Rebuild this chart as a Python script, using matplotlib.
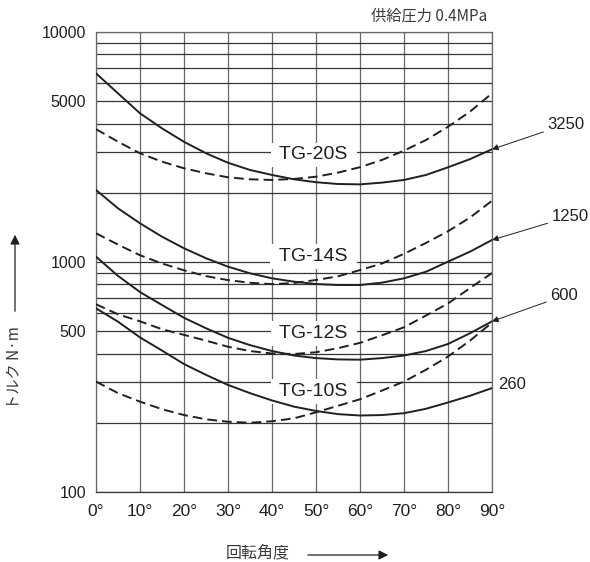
import matplotlib
matplotlib.use("Agg")
import matplotlib.pyplot as plt

# rotation angle (deg) and torque (N·m)
angle = [0, 5, 10, 15, 20, 25, 30, 35, 40, 45, 50, 55, 60, 65, 70, 75, 80, 85, 90]

tg20s_solid = [6610, 5410, 4430, 3811, 3330, 2970, 2700, 2512, 2390, 2288,
               2222, 2183, 2175, 2213, 2273, 2390, 2580, 2800, 3090]
tg20s_dash = [3780, 3334, 2968, 2730, 2555, 2430, 2334, 2288, 2273, 2296,
              2348, 2446, 2583, 2777, 3049, 3390, 3873, 4505, 5410]
tg14s_solid = [2056, 1711, 1473, 1288, 1147, 1038, 954, 893, 849, 821,
               802, 794, 794, 813, 849, 907, 1003, 1109, 1246]
tg14s_dash = [1333, 1190, 1070, 985, 920, 868, 834, 812, 801, 810,
              835, 866, 922, 985, 1085, 1210, 1360, 1560, 1845]
tg12s_solid = [1055, 870, 740, 650, 572, 515, 468, 435, 410, 392,
               382, 377, 376, 382, 392, 410, 440, 490, 552]
tg12s_dash = [655, 592, 552, 510, 482, 455, 428, 410, 400, 398,
              405, 422, 445, 480, 520, 585, 660, 770, 895]
tg10s_solid = [629, 550, 470, 412, 360, 323, 292, 269, 250, 235,
               225, 218, 215, 216, 220, 230, 245, 262, 283]
tg10s_dash = [302, 269, 247, 229, 216, 207, 202, 200, 203, 209,
              222, 237, 253, 276, 302, 340, 388, 455, 545]

models = ["TG-20S", "TG-14S", "TG-12S", "TG-10S"]
label_y = [2920, 1059, 490, 274]
end_labels = ["3250", "1250", "600"]
end_values = [3090, 1246, 552]

major_y = [100, 500, 1000, 5000, 10000]
minor_y = [200, 300, 400, 600, 700, 800, 900,
           2000, 3000, 4000, 6000, 7000, 8000, 9000]
x_ticks = [0, 10, 20, 30, 40, 50, 60, 70, 80, 90]

latin = "Liberation Sans"
cjk = ["Noto Sans CJK JP", "Liberation Sans", "DejaVu Sans"]

ink = "#231f20"
hgrid = "#3b3435"
vgrid = "#6e6667"

fig = plt.figure(figsize=(5.9, 5.62), dpi=100)
ax = fig.add_axes([0.1627, 0.1246, 0.6712, 0.8185])

ax.set_yscale("log")
ax.set_xlim(0, 90)
ax.set_ylim(100, 10000)

ax.set_yticks(major_y)
ax.set_yticklabels([str(v) for v in major_y], fontsize=11.5, family=latin, color=ink)
ax.set_yticks(minor_y, minor=True)
ax.yaxis.set_minor_formatter(matplotlib.ticker.NullFormatter())
ax.set_xticks(x_ticks)
ax.set_xticklabels([f"{v}°" for v in x_ticks], fontsize=12.5, family=latin, color=ink)
ax.tick_params(which="both", length=0)
ax.tick_params(axis="y", pad=7)
ax.tick_params(axis="x", pad=9)

ax.grid(True, axis="y", which="both", color=hgrid, lw=0.9, zorder=1)
ax.grid(True, axis="x", which="major", color=vgrid, lw=0.9, zorder=1)
ax.set_axisbelow(True)
for side in ["top", "right", "left"]:
    ax.spines[side].set_color(vgrid)
    ax.spines[side].set_linewidth(0.9)
ax.spines["bottom"].set_color(hgrid)
ax.spines["bottom"].set_linewidth(0.9)

solids = [tg20s_solid, tg14s_solid, tg12s_solid, tg10s_solid]
dashes = [tg20s_dash, tg14s_dash, tg12s_dash, tg10s_dash]
for s, d in zip(solids, dashes):
    ax.plot(angle, s, color=ink, lw=1.4, zorder=4, solid_joinstyle="round")
    ax.plot(angle, d, color=ink, lw=1.4, zorder=4, dashes=(5, 2.6))

# model labels sitting in gaps of the grid lines
for name, yv in zip(models, label_y):
    ax.text(49.5, yv, f" {name} ", ha="center", va="center", fontsize=14,
            family=latin, color=ink, zorder=3,
            bbox=dict(boxstyle="square,pad=0.2", fc="white", ec="none"))

# values at 90 degrees
offsets = [(40, 18), (43, 17), (42, 18.5)]
for lab, yv, off in zip(end_labels, end_values, offsets):
    ax.annotate(lab, xy=(90, yv), xytext=off, textcoords="offset points",
                ha="left", va="center", fontsize=12, family=latin, color=ink,
                annotation_clip=False,
                arrowprops=dict(arrowstyle="-|>", lw=0.7, color=ink,
                                mutation_scale=9, shrinkA=1, shrinkB=0))
ax.text(91.4, 292, "260", ha="left", va="center", fontsize=12,
        family=latin, color=ink, clip_on=False)

fig.text(487 / 590, 1 - 16 / 562, "供給圧力 0.4MPa", ha="right", va="center",
         fontsize=11, family=cjk, color="#3a3a3a")

# y label with arrow
fig.text(15 / 590, 1 - 368 / 562, "トルク N·m", rotation=90, ha="center",
         va="center", fontsize=11, family=cjk, color="#3a3a3a")
fig.add_artist(matplotlib.patches.FancyArrowPatch(
    (15 / 590, 1 - 314 / 562), (15 / 590, 1 - 232 / 562),
    transform=fig.transFigure, arrowstyle="-|>", mutation_scale=14,
    lw=0.9, color=ink))

# x label with arrow
fig.text(258 / 590, 1 - 553 / 562, "回転角度", ha="center", va="center",
         fontsize=11.5, family=cjk, color="#3a3a3a")
fig.add_artist(matplotlib.patches.FancyArrowPatch(
    (305 / 590, 1 - 555 / 562), (391 / 590, 1 - 555 / 562),
    transform=fig.transFigure, arrowstyle="-|>", mutation_scale=14,
    lw=0.9, color=ink))

fig.savefig("out.png", dpi=100)
